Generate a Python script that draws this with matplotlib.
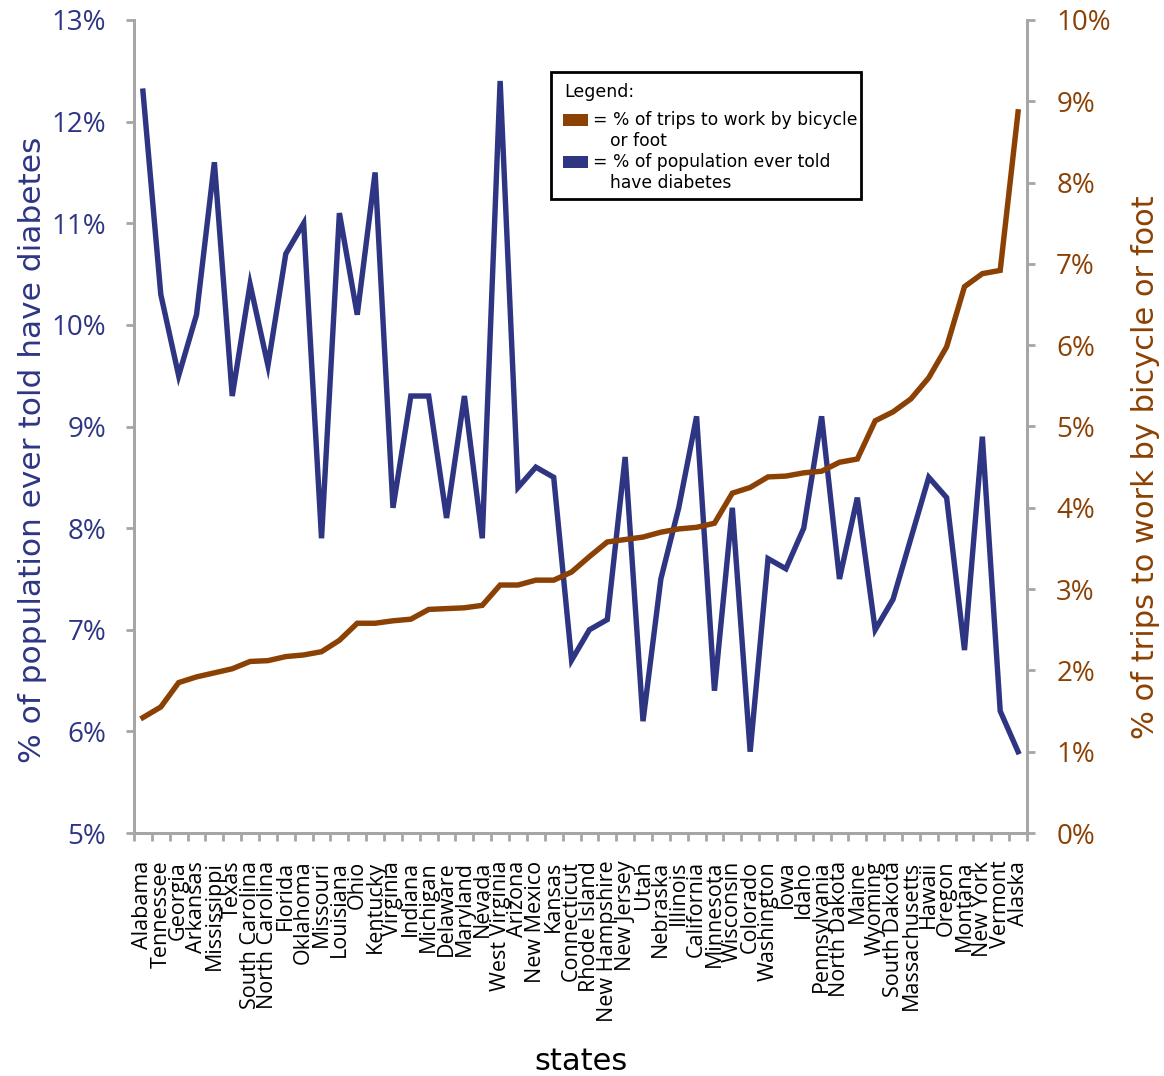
import matplotlib
matplotlib.use("Agg")
import matplotlib.pyplot as plt
from matplotlib.patches import Rectangle
import numpy as np

states = ["Alabama", "Tennessee", "Georgia", "Arkansas", "Mississippi", "Texas",
          "South Carolina", "North Carolina", "Florida", "Oklahoma", "Missouri",
          "Louisiana", "Ohio", "Kentucky", "Virginia", "Indiana", "Michigan",
          "Delaware", "Maryland", "Nevada", "West Virginia", "Arizona", "New Mexico",
          "Kansas", "Connecticut", "Rhode Island", "New Hampshire", "New Jersey",
          "Utah", "Nebraska", "Illinois", "California", "Minnesota", "Wisconsin",
          "Colorado", "Washington", "Iowa", "Idaho", "Pennsylvania", "North Dakota",
          "Maine", "Wyoming", "South Dakota", "Massachusetts", "Hawaii", "Oregon",
          "Montana", "New York", "Vermont", "Alaska"]

diabetes = [12.3, 10.3, 9.5, 10.1, 11.6, 9.3, 10.4, 9.6, 10.7, 11.0, 7.9,
            11.1, 10.1, 11.5, 8.2, 9.3, 9.3, 8.1, 9.3, 7.9, 12.4, 8.4, 8.6,
            8.5, 6.7, 7.0, 7.1, 8.7, 6.1, 7.5, 8.2, 9.1, 6.4, 8.2, 5.8, 7.7,
            7.6, 8.0, 9.1, 7.5, 8.3, 7.0, 7.3, 7.9, 8.5, 8.3, 6.8, 8.9, 6.2, 5.8]

bike_foot = [1.42, 1.55, 1.85, 1.92, 1.97, 2.02, 2.11, 2.12, 2.17, 2.19, 2.23,
             2.37, 2.58, 2.58, 2.61, 2.63, 2.75, 2.76, 2.77, 2.80, 3.05, 3.05,
             3.11, 3.11, 3.21, 3.40, 3.58, 3.61, 3.64, 3.70, 3.74, 3.76, 3.81,
             4.18, 4.25, 4.38, 4.39, 4.43, 4.45, 4.56, 4.60, 5.07, 5.18, 5.34,
             5.60, 5.98, 6.72, 6.88, 6.92, 8.87]

left_ticks = [5, 6, 7, 8, 9, 10, 11, 12, 13]
right_ticks = [0, 1, 2, 3, 4, 5, 6, 7, 8, 9, 10]

legend_title = "Legend:"
legend_lines = [("= % of trips to work by bicycle", "or foot"),
                ("= % of population ever told", "have diabetes")]

BLUE = "#2e3583"
BROWN = "#8b4104"
GRAY = "#a6a6a6"
TICKFONT = "Open Sans"
TITLEFONT = "DejaVu Sans"

W, H = 1164, 1076
fig = plt.figure(figsize=(W/100, H/100), dpi=100)
ax = fig.add_axes([134/W, 1-833/H, (1027-134)/W, (833-20)/H])
ax2 = ax.twinx()

x = np.arange(len(states)) + 0.5
ax.plot(x, diabetes, color=BLUE, lw=3.9, solid_joinstyle="miter", zorder=3)
ax2.plot(x, bike_foot, color=BROWN, lw=3.9, solid_joinstyle="miter", zorder=3)

ax.set_xlim(0, len(states))
ax.set_ylim(5, 13)
ax2.set_ylim(0, 10)

ax.set_yticks(left_ticks)
ax.set_yticklabels([f"{t}%" for t in left_ticks], color=BLUE,
                   fontsize=20, family=TICKFONT)
ax2.set_yticks(right_ticks)
ax2.set_yticklabels([f"{t}%" for t in right_ticks], color=BROWN,
                    fontsize=20, family=TICKFONT)

ax.set_xticks(np.arange(len(states) + 1))
ax.set_xticklabels([])
ax.set_xticks(x, minor=True)
ax.set_xticklabels(states, minor=True, rotation=90, fontsize=15.5,
                   family=TICKFONT, va="top", ha="center")
ax.tick_params(axis="x", which="minor", length=0, pad=20)
ax.tick_params(axis="x", which="major", length=6, width=2, color=GRAY)
ax.tick_params(axis="y", length=6, width=2, color=GRAY, pad=14)
ax2.tick_params(axis="y", length=6, width=2, color=GRAY, pad=15)

for a in (ax, ax2):
    a.spines["top"].set_visible(False)
    for s in ("left", "right", "bottom"):
        a.spines[s].set_color(GRAY)
        a.spines[s].set_linewidth(2)

ax.set_ylabel("% of population ever told have diabetes", color=BLUE,
              fontsize=22.5, family=TITLEFONT)
ax.yaxis.set_label_coords(-(134-47)/893, (833-450)/813)
ax2.set_ylabel("% of trips to work by bicycle or foot", color=BROWN,
               fontsize=22, family=TITLEFONT)
ax2.yaxis.set_label_coords(1+(1131-1027)/893, (833-467)/813)
ax.set_xlabel("states", fontsize=22, family=TITLEFONT, labelpad=18)

# legend drawn manually (pixel positions converted to figure fraction)
def fx(px):
    return px / W

def fy(py):
    return 1 - py / H

fig.patches.append(Rectangle((fx(551), fy(199)), fx(861) - fx(551), fy(72) - fy(199),
                             transform=fig.transFigure, facecolor="white",
                             edgecolor="black", lw=2, zorder=10))
fig.text(fx(564), fy(92), legend_title, fontsize=12.5, family=TITLEFONT,
         va="center", ha="left", zorder=11)
for (l1, l2), col, py in zip(legend_lines, [BROWN, BLUE], [120, 162]):
    fig.patches.append(Rectangle((fx(563), fy(py + 6)), fx(588) - fx(563), fy(py - 6) - fy(py + 6),
                                 transform=fig.transFigure, facecolor=col,
                                 edgecolor="none", zorder=11))
    fig.text(fx(593), fy(py), l1, fontsize=12.3, family=TITLEFONT,
             va="center", ha="left", zorder=11)
    fig.text(fx(610), fy(py + 21), l2, fontsize=12.3, family=TITLEFONT,
             va="center", ha="left", zorder=11)

fig.savefig("out.png", dpi=100)
